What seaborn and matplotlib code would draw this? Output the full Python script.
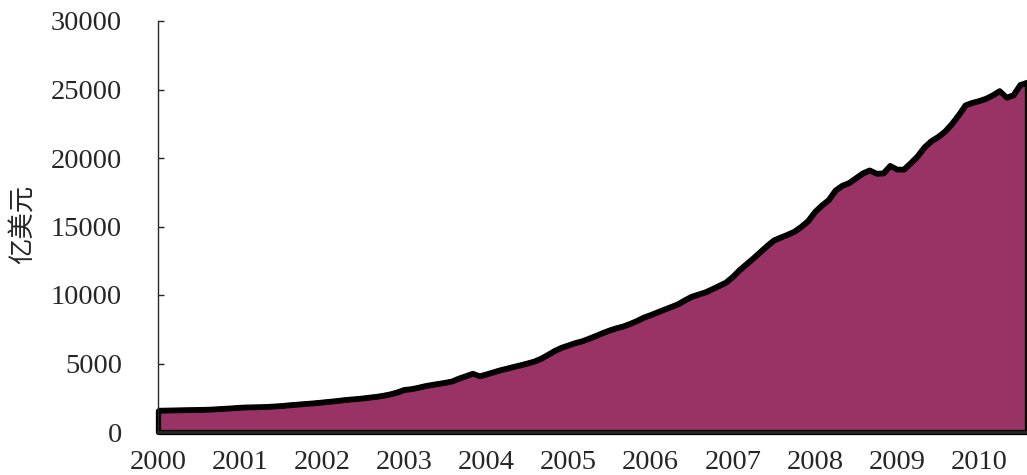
import numpy as np
import matplotlib
matplotlib.use('Agg')
import matplotlib.pyplot as plt
import seaborn as sns

# monthly values (亿美元), Jan..Dec of each year
vals_2000 = [1570, 1580, 1590, 1600, 1610, 1620, 1630, 1640, 1660, 1690, 1720, 1750]
vals_2001 = [1790, 1810, 1820, 1830, 1850, 1880, 1910, 1960, 2000, 2040, 2080, 2120]
vals_2002 = [2170, 2220, 2270, 2330, 2380, 2420, 2470, 2530, 2590, 2670, 2770, 2910]
vals_2003 = [3090, 3140, 3240, 3360, 3450, 3530, 3610, 3710, 3920, 4090, 4270, 4080]
vals_2004 = [4220, 4370, 4520, 4640, 4770, 4890, 5020, 5160, 5370, 5650, 5940, 6170]
vals_2005 = [6340, 6510, 6640, 6830, 7030, 7240, 7430, 7590, 7720, 7910, 8120, 8370]
vals_2006 = [8550, 8750, 8950, 9140, 9340, 9630, 9890, 10050, 10210, 10440, 10680, 10920]
vals_2007 = [11340, 11840, 12260, 12690, 13140, 13590, 14000, 14210, 14410, 14640, 14990, 15410]
vals_2008 = [16070, 16540, 16940, 17640, 17990, 18190, 18540, 18890, 19110, 18870, 18890, 19440]
vals_2009 = [19170, 19170, 19640, 20140, 20790, 21240, 21550, 21940, 22490, 23140, 23860, 24040]
vals_2010 = [24170, 24340, 24590, 24900, 24420, 24590, 25340, 25510]

values = np.array(vals_2000 + vals_2001 + vals_2002 + vals_2003 + vals_2004 + vals_2005
                  + vals_2006 + vals_2007 + vals_2008 + vals_2009 + vals_2010)
months = np.arange(len(values))
years = list(range(2000, 2011))
y_ticks = [0, 5000, 10000, 15000, 20000, 25000, 30000]

sns.set_style('ticks')
plt.rcParams['font.family'] = ['Liberation Serif', 'Noto Sans CJK SC', 'DejaVu Sans']

fig = plt.figure(figsize=(10.27, 4.75), dpi=100)
ax = fig.add_axes([158 / 1027, 43 / 475, 1 - 158 / 1027, 411 / 475])

ax.fill_between(months, values, 0, color='#993366', edgecolor='black',
                linewidth=3.8, clip_on=False, zorder=1)
sns.lineplot(x=months, y=values, color='black', linewidth=3.8, ax=ax, zorder=2)

ax.set_xlim(0, len(values) - 1)
ax.set_ylim(0, 30000)
ax.set_xticks([12 * i for i in range(len(years))])
ax.set_xticklabels([str(y) for y in years])
ax.set_yticks(y_ticks)
ax.set_yticklabels([str(v) for v in y_ticks])

ax.tick_params(axis='y', direction='in', length=4.5, width=1, pad=26, labelsize=20.5)
ax.tick_params(axis='x', direction='in', length=4, width=1, pad=13, labelsize=20.5)

for side in ['top', 'right']:
    ax.spines[side].set_visible(False)
ax.spines['left'].set_linewidth(1)
ax.spines['bottom'].set_linewidth(2)

ax.set_ylabel('亿美元', fontsize=19, family=['Noto Sans CJK SC'])
ax.yaxis.set_label_coords(-0.139, 0.505)
ax.set_xlabel('')

plt.savefig('out.png', dpi=100)
plt.close()
